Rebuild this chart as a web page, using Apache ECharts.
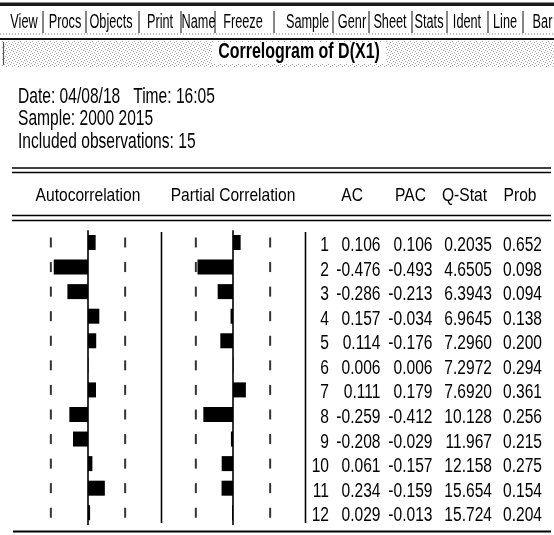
<!DOCTYPE html>
<html><head><meta charset="utf-8">
<script src="https://cdn.jsdelivr.net/npm/echarts@6/dist/echarts.min.js"></script>
<style>html,body{margin:0;padding:0;background:#fff}#c{width:554px;height:535px}</style>
</head><body><div id="c"></div>
<script>
// ---------------- data ----------------
const lags = [1, 2, 3, 4, 5, 6, 7, 8, 9, 10, 11, 12];
const acValues  = [0.106, -0.476, -0.286, 0.157, 0.114, 0.006, 0.111, -0.259, -0.208, 0.061, 0.234, 0.029];
const pacValues = [0.106, -0.493, -0.213, -0.034, -0.176, 0.006, 0.179, -0.412, -0.029, -0.157, -0.159, -0.013];
const qStat = [0.2035, 4.6505, 6.3943, 6.9645, 7.2960, 7.2972, 7.6920, 10.128, 11.967, 12.158, 15.654, 15.724];
const probValues = [0.652, 0.098, 0.094, 0.138, 0.200, 0.294, 0.361, 0.256, 0.215, 0.275, 0.154, 0.204];
const confBound = 0.516; // dashed band (about 2/sqrt(15))
const toolbarItems = ['View', 'Procs', 'Objects', 'Print', 'Name', 'Freeze', 'Sample', 'Genr', 'Sheet', 'Stats', 'Ident', 'Line', 'Bar'];
const titleText = 'Correlogram of D(X1)';
const headerLines = ['Date: 04/08/18   Time: 16:05', 'Sample: 2000 2015', 'Included observations: 15'];
const panelHeaders = ['Autocorrelation', 'Partial Correlation'];
const columnHeaders = ['AC', 'PAC', 'Q-Stat', 'Prob'];

// ---------------- layout ----------------
const FONT = '"Liberation Sans","Arial",sans-serif';
const NARROW = 0.82;
const plotTop = 230.2, rowH = 24.57, plotH = rowH * lags.length;
const panels = [{ left: 16, width: 144 }, { left: 161, width: 144 }];
const toolbarCenters = [24, 65, 111, 160, 198.5, 243, 307.5, 352, 390, 429, 467, 505, 542.5];
const toolbarSeps = [43, 86, 139, 181, 215, 274, 333, 369, 412, 447, 488, 523];
const colHeaderRight = [363, 426, 487, 536.5];
const tableRight = [329, 380.5, 432.5, 492, 542];

const fmt3 = v => v.toFixed(3);
const fmtQ = v => (v < 10 ? v.toFixed(4) : v.toFixed(3));
const tableColumns = [lags.map(String), acValues.map(fmt3), pacValues.map(fmt3), qStat.map(fmtQ), probValues.map(fmt3)];
const tableTexts = tableColumns.flat();

// dither pattern for title band
const pc = document.createElement('canvas');
pc.width = 6; pc.height = 6;
const px = pc.getContext('2d');
px.fillStyle = '#fff'; px.fillRect(0, 0, 6, 6);
px.fillStyle = '#a8a8a8';
[[0,0],[3,1],[1,3],[4,4],[2,5],[5,2]].forEach(([a,b]) => px.fillRect(a, b, 1, 1));

const chart = echarts.init(document.getElementById('c'), null, { renderer: 'canvas' });

const grids = panels.map(p => ({ left: p.left, width: p.width, top: plotTop, height: plotH }));
grids.push({ left: 305, width: 249, top: plotTop, height: plotH });

const xAxes = panels.map((p, k) => ({ gridIndex: k, type: 'value', min: -1, max: 1, show: false }));
xAxes.push({ gridIndex: 2, type: 'value', min: 305, max: 554, show: false });
const yAxes = [0, 1, 2].map(k => ({ gridIndex: k, type: 'category', data: lags.map(String), inverse: true, show: false }));

const series = [];
[acValues, pacValues].forEach((vals, k) => {
  series.push({
    type: 'bar', xAxisIndex: k, yAxisIndex: k, data: vals, barWidth: 15, silent: true,
    itemStyle: { color: '#000' },
    markLine: { silent: true, symbol: ['none', 'none'], label: { show: false },
      lineStyle: { color: '#000', width: 1.6, type: 'solid' }, data: [{ xAxis: 0 }] }
  });
  series.push({
    type: 'scatter', xAxisIndex: k, yAxisIndex: k, symbol: 'rect', symbolSize: [2, 10], silent: true,
    itemStyle: { color: '#000' },
    data: lags.flatMap((l, i) => [[-confBound, i], [confBound, i]])
  });
});
series.push({
  type: 'custom', xAxisIndex: 2, yAxisIndex: 2, silent: true,
  data: tableColumns.flatMap((col, c) => col.map((t, i) => [tableRight[c], i])),
  encode: { x: 0, y: 1 },
  renderItem: (params, api) => {
    const p = api.coord([api.value(0), api.value(1)]);
    return { type: 'text', x: p[0], y: p[1] + 3, scaleX: NARROW, scaleY: 1.05,
      style: { text: tableTexts[params.dataIndex], fill: '#000', fontSize: 19, fontFamily: FONT,
        align: 'right', verticalAlign: 'middle' } };
  }
});

const g = [];
const hline = (x1, x2, y, w, c) => g.push({ type: 'line', shape: { x1, y1: y, x2, y2: y }, style: { stroke: c || '#000', lineWidth: w } });
const vline = (x, y1, y2, w, c) => g.push({ type: 'line', shape: { x1: x, y1, x2: x, y2 }, style: { stroke: c || '#000', lineWidth: w } });
const text = (t, x, y, size, align, sy, bold) => g.push({ type: 'text', x, y, scaleX: NARROW, scaleY: sy || 1,
  style: { text: t, fill: '#000', fontSize: size, fontFamily: FONT, align, verticalAlign: 'middle',
    fontWeight: bold ? 'bold' : 'normal' } });

// toolbar
g.push({ type: 'rect', shape: { x: 0, y: 2.5, width: 554, height: 3.5 }, style: { fill: '#1a1a1a' } });
toolbarSeps.forEach(x => vline(x, 11, 33, 1.3, '#444'));
toolbarItems.forEach((t, i) => text(t, toolbarCenters[i], 22.5, 15.5, 'center', 1.3));
g.push({ type: 'line', shape: { x1: 0, y1: 34, x2: 554, y2: 34 }, style: { stroke: '#888', lineWidth: 1, lineDash: [1, 2] } });
g.push({ type: 'rect', shape: { x: 0, y: 38, width: 554, height: 2 }, style: { fill: '#111' } });
// title band
g.push({ type: 'rect', shape: { x: 2, y: 41, width: 552, height: 26 }, style: { fill: { image: pc, repeat: 'repeat' } } });
vline(3.5, 42, 65, 1.2, '#555');
g.push({ type: 'rect', shape: { x: 212, y: 42, width: 174, height: 22 }, style: { fill: '#fff' } });
text(titleText, 299, 51.7, 19.5, 'center', 1.17, true);
// header info
headerLines.forEach((t, i) => text(t, 18, 97 + i * 22.5, 19, 'left', 1.12));
// rules
hline(12, 551, 168, 1.4); hline(12, 551, 172.5, 1.4);
hline(12, 551, 215.5, 1.4); hline(12, 551, 220.5, 1.4);
hline(13, 551, 531.5, 2.2);
// column headers
text(panelHeaders[0], 88, 195.5, 19, 'center');
text(panelHeaders[1], 233, 195.5, 19, 'center');
columnHeaders.forEach((t, i) => text(t, colHeaderRight[i], 195.5, 19, 'right'));
// panel separators
vline(161.5, 232, 523, 1.6);
vline(305.5, 232, 523, 1.6);

chart.setOption({
  animation: false,
  grid: grids, xAxis: xAxes, yAxis: yAxes, series: series,
  graphic: { elements: g }
});
</script></body></html>
